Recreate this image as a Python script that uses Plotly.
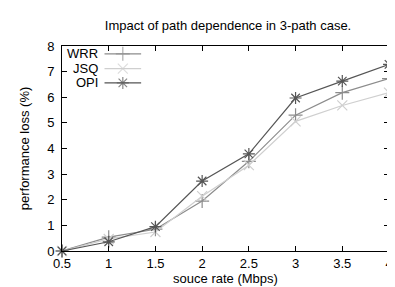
import plotly.graph_objects as go

x_rate = [0.5, 1, 1.5, 2, 2.5, 3, 3.5, 4]
wrr = [0.0, 0.54, 0.85, 1.95, 3.5, 5.3, 6.18, 6.73]
jsq = [0.0, 0.47, 0.74, 2.14, 3.35, 5.06, 5.68, 6.18]
opi = [0.0, 0.36, 0.95, 2.73, 3.79, 5.97, 6.63, 7.28]

series = [
    ("WRR", wrr, "#8c8c8c", "cross-thin-open"),
    ("JSQ", jsq, "#cfcfcf", "x-thin-open"),
    ("OPI", opi, "#555555", "asterisk-open"),
]

FONT = "Liberation Sans, Arial, Helvetica, sans-serif"
fig = go.Figure()
for name, ys, col, sym in series:
    fig.add_trace(go.Scatter(
        x=x_rate, y=ys, mode="lines+markers", name=name,
        line=dict(color=col, width=1.2),
        marker=dict(symbol=sym, size=10, color=col, line=dict(color=col, width=1.2)),
        showlegend=False, cliponaxis=False,
    ))

# custom gnuplot-style legend (text left of sample)
leg_y = [0.962, 0.89, 0.82]
for (name, ys, col, sym), ly in zip(series, leg_y):
    fig.add_trace(go.Scatter(
        x=[0.13, 0.186, 0.242], y=[ly, ly, ly], xaxis="x2", yaxis="y2",
        mode="lines+markers", showlegend=False, hoverinfo="skip",
        line=dict(color=col, width=1.2),
        marker=dict(symbol=sym, size=[0, 10, 0], color=col, line=dict(color=col, width=1.2)),
    ))
    fig.add_annotation(xref="x2", yref="y2", x=0.112, y=ly, text=name, showarrow=False,
                       xanchor="right", yanchor="middle", borderpad=0,
                       font=dict(family=FONT, size=13, color="black"))

axis_common = dict(
    showline=True, linecolor="black", linewidth=1, mirror="ticks",
    ticks="inside", ticklen=5, tickcolor="black", tickwidth=1,
    showgrid=False, zeroline=False,
    tickfont=dict(family=FONT, size=13, color="black"),
)
fig.update_layout(
    width=395, height=287,
    margin=dict(l=54, r=10, t=38, b=44),
    paper_bgcolor="white", plot_bgcolor="white",
    title=dict(text="Impact of path dependence in 3-path case.", x=0.557, xanchor="center",
               y=0.94, yanchor="middle", font=dict(family=FONT, size=13, color="black")),
    xaxis=dict(range=[0.5, 4], tickvals=x_rate, ticktext=["0.5", "1", "1.5", "2", "2.5", "3", "3.5", "4"],
               title=dict(text="souce rate (Mbps)", font=dict(family=FONT, size=13, color="black"), standoff=1),
               **axis_common),
    yaxis=dict(range=[0, 8], tickvals=list(range(9)), ticklabelstandoff=4,
               title=dict(text="performance loss (%)", font=dict(family=FONT, size=13, color="black"), standoff=14),
               **axis_common),
    xaxis2=dict(range=[0, 1], overlaying="x", visible=False),
    yaxis2=dict(range=[0, 1], overlaying="y", visible=False),
    showlegend=False,
)
fig.write_html("out.html")
